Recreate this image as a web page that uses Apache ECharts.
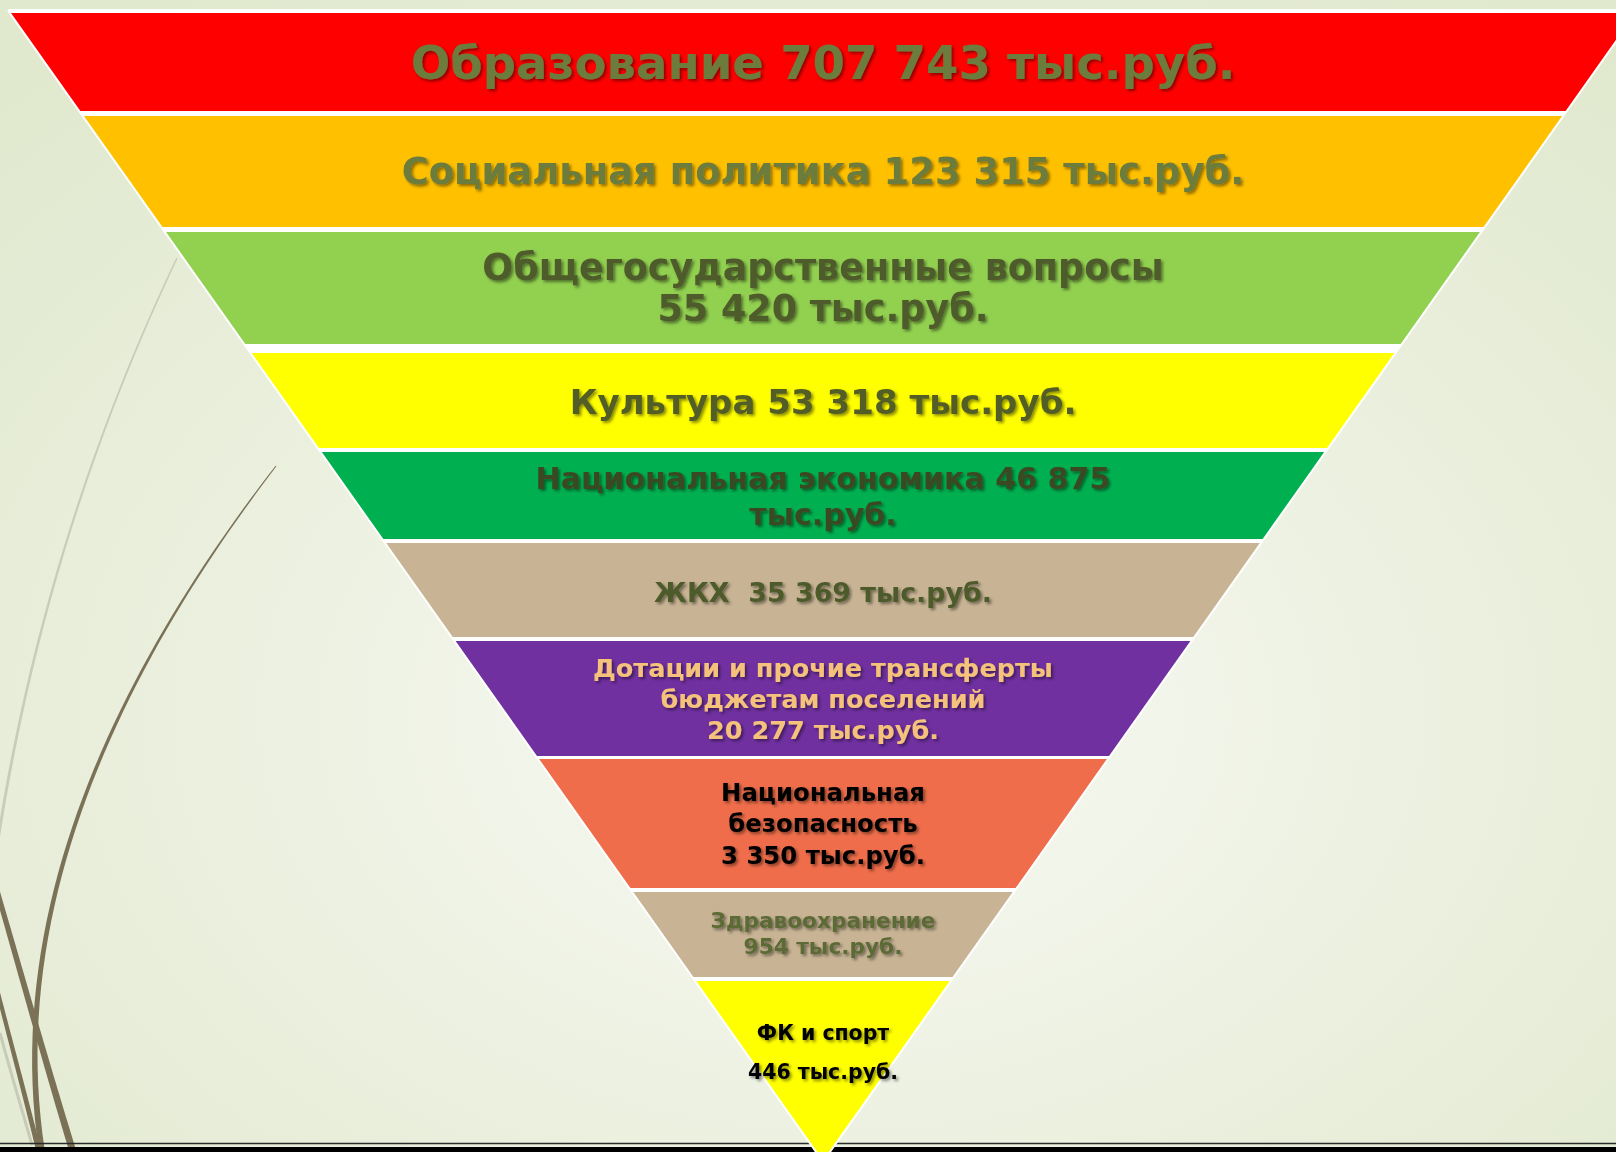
<!DOCTYPE html>
<html>
<head>
<meta charset="utf-8">
<script src="https://cdn.jsdelivr.net/npm/echarts@6/dist/echarts.min.js"></script>
<style>
  html, body { margin: 0; padding: 0; }
  #main { width: 1616px; height: 1152px; }
</style>
</head>
<body>
<div id="main"></div>
<script>
// budget items, top of the pyramid to the tip
const categories = ['Образование', 'Социальная политика', 'Общегосударственные вопросы', 'Культура',
  'Национальная экономика', 'ЖКХ ', 'Дотации и прочие трансферты\nбюджетам поселений',
  'Национальная\nбезопасность', 'Здравоохранение', 'ФК и спорт'];
const amounts = [707743, 123315, 55420, 53318, 46875, 35369, 20277, 3350, 954, 446];
const unit = 'тыс.руб.';
// separators: name|amount and amount|unit
const labelSeps = [[' ', ' '], [' ', ' '], ['\n', ' '], [' ', ' '], [' ', '\n'], [' ', ' '],
  ['\n', ' '], ['\n', ' '], ['\n', ' '], ['\n', ' ']];

const bandColors = ['#ff0000', '#ffc000', '#92d050', '#ffff00', '#00b050', '#c8b494', '#7030a0', '#ef6d4a', '#c8b494', '#ffff00'];
const textColors = ['#6c7b3d', '#6c7b3d', '#4e5b2a', '#535d25', '#3b4a24', '#4d5a2b', '#f5c27c', '#000000', '#5b6a35', '#000000'];

// layout: rows measured from the top edge down to the tip (APEX)
const APEX = 1147;
const VISIBLE = 1139;          // rows above the bottom of the slide
const HALF_TOP = 812;          // half width of the top edge, px
const CENTER = 823;            // axis of the pyramid, px
const bandTops = [0, 103, 219, 340, 439, 530, 628, 746, 879, 968];
const bandBottoms = [98, 214, 331, 435, 526, 624, 743, 875, 964, 1147];
const textWidths = [825, 843, 682, 507, 575, 338, 460, 204, 225, 150];
const lineHeights = [60, 44, 41, 44, 36, 36, 31, 31.5, 26, 39];
const labelShift = [1, 0, 0, 1, 1, 2, 0, 0, -1, -18];
const FONT = '"DejaVu Sans", sans-serif';

function fmt(n) {
  return String(n).replace(/\B(?=(\d{3})+(?!\d))/g, ' ');
}
const labels = categories.map((c, i) => c + labelSeps[i][0] + fmt(amounts[i]) + labelSeps[i][1] + unit);

// font size so the widest line gets the width seen in the picture
const ctx = document.createElement('canvas').getContext('2d');
const fontSizes = labels.map((t, i) => {
  ctx.font = 'bold 100px ' + FONT;
  const w = Math.max(...t.split('\n').map(s => ctx.measureText(s).width));
  return 100 * textWidths[i] / w;
});

// decorative strokes of the slide theme
function taper(p0, p1, p2, p3, w0, w1) {
  const a = [], b = [];
  for (let k = 0; k <= 48; k++) {
    const t = k / 48, u = 1 - t;
    const x = u*u*u*p0[0] + 3*u*u*t*p1[0] + 3*u*t*t*p2[0] + t*t*t*p3[0];
    const y = u*u*u*p0[1] + 3*u*u*t*p1[1] + 3*u*t*t*p2[1] + t*t*t*p3[1];
    const dx = 3*u*u*(p1[0]-p0[0]) + 6*u*t*(p2[0]-p1[0]) + 3*t*t*(p3[0]-p2[0]);
    const dy = 3*u*u*(p1[1]-p0[1]) + 6*u*t*(p2[1]-p1[1]) + 3*t*t*(p3[1]-p2[1]);
    const len = Math.hypot(dx, dy) || 1;
    const w = (w0 + (w1 - w0) * t) / 2;
    a.push([x - dy / len * w, y + dx / len * w]);
    b.push([x + dy / len * w, y - dx / len * w]);
  }
  return a.concat(b.reverse());
}
const olive = '#7a7156';

var myChart = echarts.init(document.getElementById('main'), null, { renderer: 'svg' });

function trapezoid(api, top, bottom) {
  const half = r => (APEX - r) / APEX;
  return [[-half(top), top], [half(top), top], [half(bottom), bottom], [-half(bottom), bottom]].map(p => api.coord(p));
}

var option = {
  animation: false,
  grid: { left: CENTER - HALF_TOP, right: 0, top: 13, bottom: 0 },
  xAxis: { type: 'value', min: -1, max: (1616 - CENTER) / HALF_TOP, show: false },
  yAxis: { type: 'value', min: 0, max: VISIBLE, inverse: true, show: false },
  graphic: [
    {
      type: 'rect', z: -100, silent: true,
      shape: { x: 0, y: 0, width: 1616, height: 1152 },
      style: {
        fill: new echarts.graphic.RadialGradient(0.52, 0.62, 0.75, [
          { offset: 0, color: '#f8f9f3' },
          { offset: 1, color: '#e0e8cd' }
        ])
      }
    },
    { type: 'polygon', z: -50, silent: true, shape: { points: taper([177, 258], [100, 420], [30, 620], [-5, 860], 1.5, 3) }, style: { fill: '#c9ccba' } },
    { type: 'polygon', z: -50, silent: true, shape: { points: taper([0, 1033], [10, 1070], [22, 1110], [32, 1145], 3, 3) }, style: { fill: '#c8cbb8' } },
    { type: 'polygon', z: -40, silent: true, shape: { points: taper([276, 466], [150, 630], [0, 880], [42, 1152], 1, 6) }, style: { fill: olive } },
    { type: 'polygon', z: -40, silent: true, shape: { points: taper([-4, 887], [20, 970], [45, 1060], [73, 1152], 5, 7) }, style: { fill: olive } },
    { type: 'polygon', z: -40, silent: true, shape: { points: taper([-4, 985], [10, 1040], [25, 1095], [39, 1152], 4, 5) }, style: { fill: olive } },
    { type: 'line', z: -30, silent: true, shape: { x1: 0, y1: 1143.5, x2: 1616, y2: 1143.5 }, style: { stroke: '#2b2b2b', lineWidth: 1.5 } },
    { type: 'rect', z: -30, silent: true, shape: { x: 0, y: 1147, width: 1616, height: 5 }, style: { fill: '#000000' } }
  ],
  series: [
    {
      // white body behind the bands, shows through the gaps
      type: 'custom',
      coordinateSystem: 'cartesian2d',
      silent: true,
      z: 1,
      data: [[0, -2, APEX]],
      renderItem: function (params, api) {
        return {
          type: 'polygon',
          shape: { points: trapezoid(api, api.value(1), api.value(2)) },
          style: { fill: '#ffffff', stroke: '#ffffff', lineWidth: 4, lineJoin: 'round' }
        };
      }
    },
    {
      type: 'custom',
      coordinateSystem: 'cartesian2d',
      z: 2,
      data: amounts.map((v, i) => [i, bandTops[i], bandBottoms[i], v]),
      renderItem: function (params, api) {
        const i = api.value(0);
        const top = api.value(1), bottom = api.value(2);
        const mid = api.coord([0, (top + bottom) / 2 + labelShift[i]]);
        return {
          type: 'group',
          children: [
            { type: 'polygon', shape: { points: trapezoid(api, top, bottom) }, style: { fill: bandColors[i] } },
            {
              type: 'text',
              x: mid[0],
              y: mid[1],
              style: {
                text: labels[i],
                fill: textColors[i],
                fontFamily: FONT,
                fontWeight: 'bold',
                fontSize: fontSizes[i],
                lineHeight: lineHeights[i],
                align: 'center',
                verticalAlign: 'middle',
                textAlign: 'center',
                textVerticalAlign: 'middle',
                textShadowColor: 'rgba(0,0,0,0.45)',
                textShadowBlur: 3,
                textShadowOffsetX: 2,
                textShadowOffsetY: 2
              }
            }
          ]
        };
      }
    }
  ]
};

myChart.setOption(option);
</script>
</body>
</html>
